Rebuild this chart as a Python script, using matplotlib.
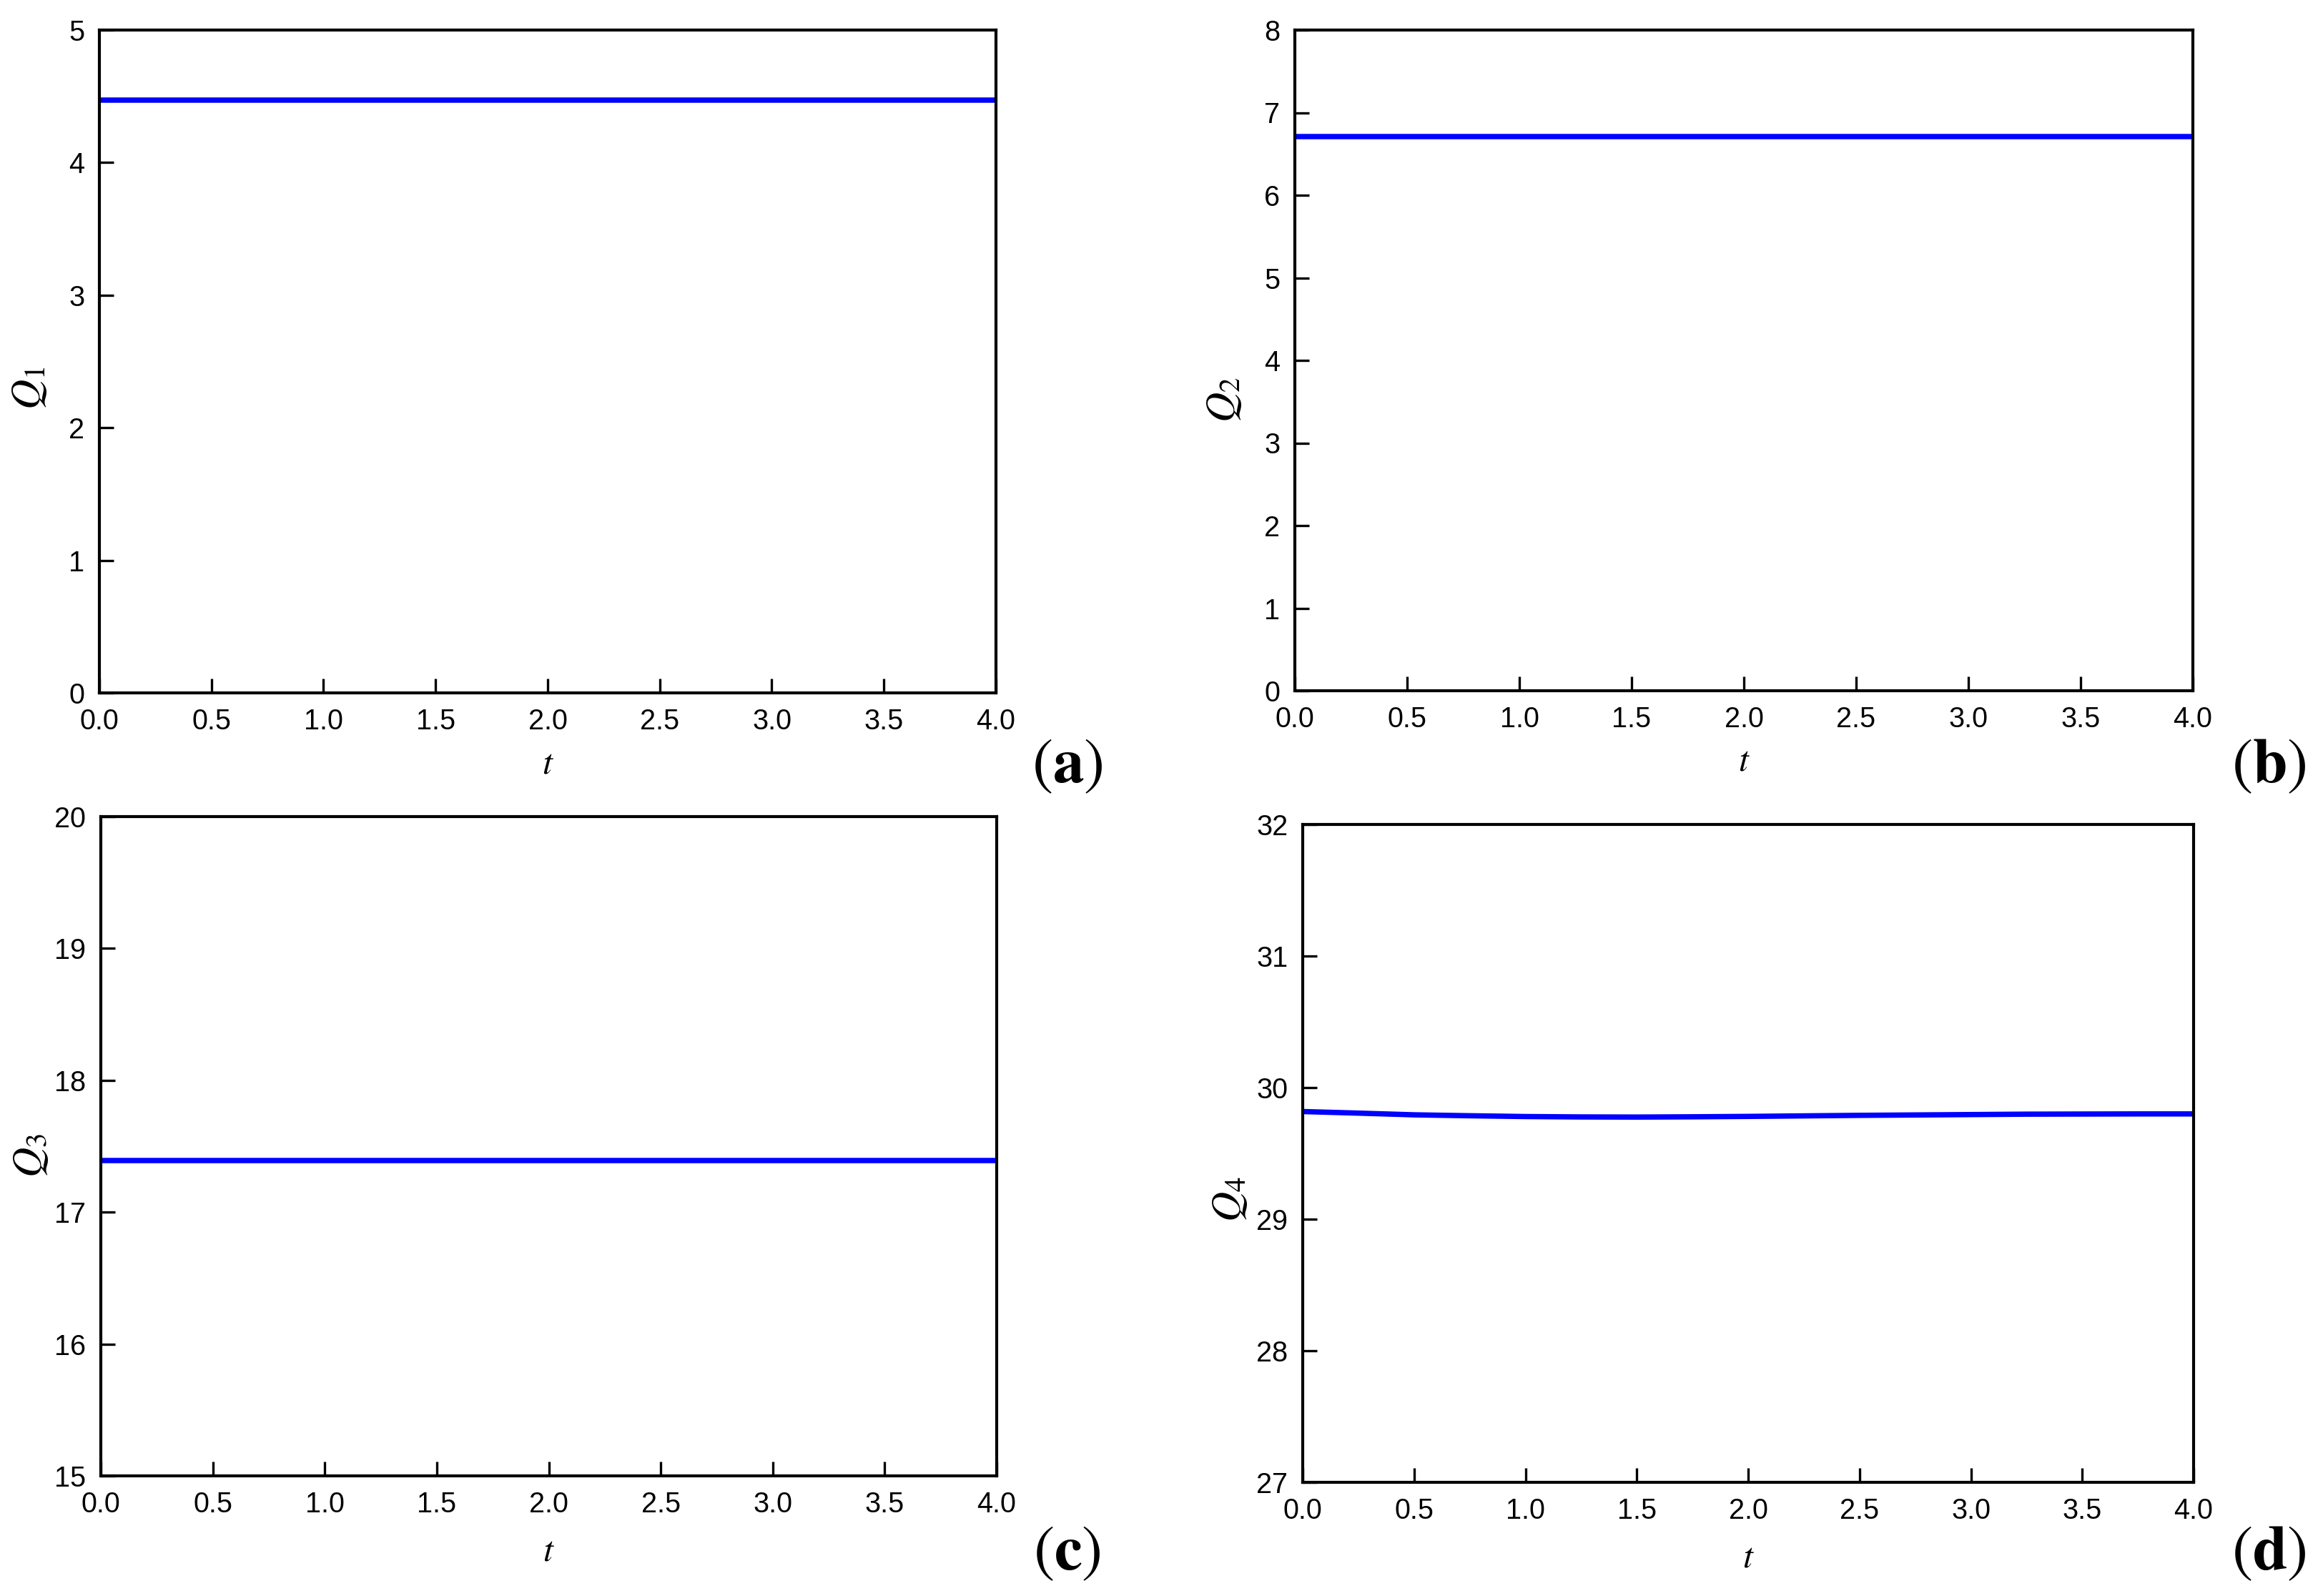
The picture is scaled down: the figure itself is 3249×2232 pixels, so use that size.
import numpy as np
import matplotlib
matplotlib.use("Agg")
import matplotlib.pyplot as plt

# ── Data ────────────────────────────────────────────────────────────
t_vals = [0.0, 0.25, 0.5, 0.75, 1.0, 1.25, 1.5, 1.75, 2.0,
          2.25, 2.5, 2.75, 3.0, 3.25, 3.5, 3.75, 4.0]
q1_vals = [4.47] * len(t_vals)
q2_vals = [6.71] * len(t_vals)
q3_vals = [17.39] * len(t_vals)
q4_vals = [29.818, 29.806, 29.793, 29.786, 29.780, 29.777, 29.776, 29.778,
           29.781, 29.785, 29.789, 29.792, 29.795, 29.798, 29.799, 29.800, 29.800]

panel_names = ["a", "b", "c", "d"]
y_labels = [r"$Q_1$", r"$Q_2$", r"$Q_3$", r"$Q_4$"]
y_limits = [(0, 5), (0, 8), (15, 20), (27, 32)]
x_ticks = [0.0, 0.5, 1.0, 1.5, 2.0, 2.5, 3.0, 3.5, 4.0]

plt.rcParams["font.family"] = ["Liberation Sans", "DejaVu Sans"]
plt.rcParams["mathtext.fontset"] = "stix"

W, H = 3249, 2232
fig = plt.figure(figsize=(W / 300, H / 300), dpi=300)

# axes boxes in pixels: left, right, top, bottom
boxes = [(139, 1393, 42, 969), (1811, 3067, 42, 966),
         (141, 1394, 1142, 2064), (1822, 3068, 1153, 2073)]
ylab_pos = [(-0.057, 0.46), (-0.057, 0.44), (-0.057, 0.486), (-0.06, 0.43)]
xlab_y = [-0.082, -0.082, -0.09, -0.09]
tag_pos = [(1493, 1072), (3173, 1072), (1492, 2173), (3173, 2173)]

series = [q1_vals, q2_vals, q3_vals, q4_vals]

for i in range(4):
    l, r, top, b = boxes[i]
    ax = fig.add_axes([l / W, 1 - b / H, (r - l) / W, (b - top) / H])
    ax.plot(t_vals, series[i], color="#0000ff", lw=1.8)
    ax.set_xlim(0, 4)
    ax.set_ylim(*y_limits[i])
    ax.set_xticks(x_ticks)
    ax.set_xticklabels([f"{v:.1f}" for v in x_ticks])
    lo, hi = y_limits[i]
    ax.set_yticks(np.arange(lo, hi + 1, 1))
    ax.tick_params(direction="in", length=4.8, width=0.8, labelsize=9.5,
                   top=False, right=False, pad=5)
    for sp in ax.spines.values():
        sp.set_linewidth(1.0)
    ax.set_xlabel(r"$t$", fontsize=12)
    ax.xaxis.set_label_coords(0.5, xlab_y[i])
    ax.set_ylabel(y_labels[i], fontsize=14)
    ax.yaxis.set_label_coords(*ylab_pos[i])
    tx, ty = tag_pos[i]
    fig.text(tx / W, 1 - ty / H, r"$(\mathbf{%s})$" % panel_names[i],
             fontsize=21, ha="center", va="center")

fig.savefig("out.png", dpi=300)
